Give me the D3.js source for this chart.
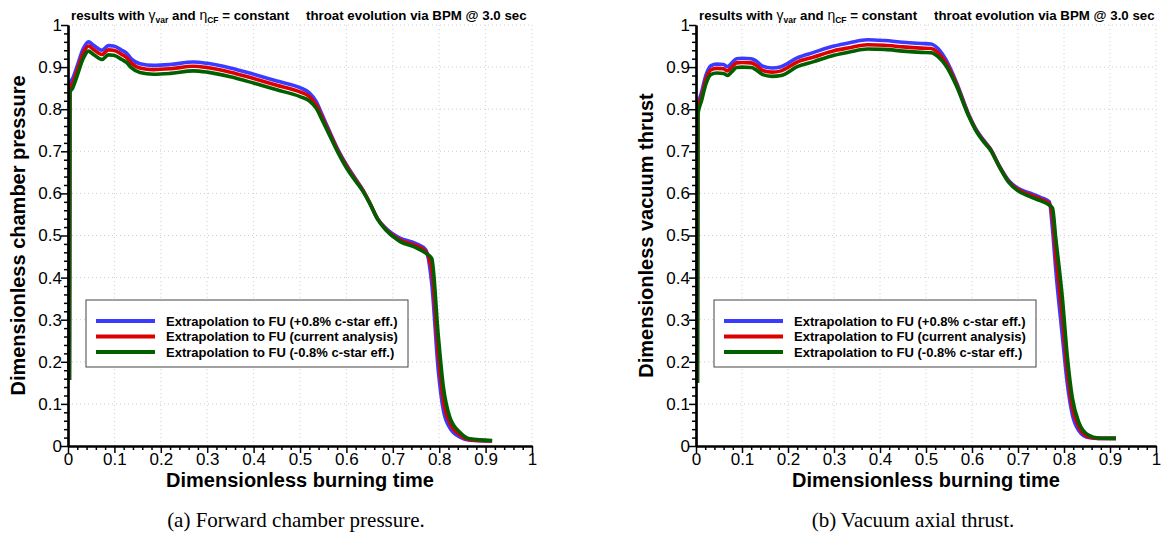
<!DOCTYPE html>
<html>
<head>
<meta charset="utf-8">
<script src="https://cdn.jsdelivr.net/npm/d3@7"></script>
<style>
  body { margin: 0; background: #fff; }
  svg { display: block; }
</style>
</head>
<body>
<div id="canvas"></div>
<script>
// pressure panel (a)
const tP = [0.003, 0.004, 0.010, 0.019, 0.033, 0.044, 0.055, 0.073, 0.087, 0.098, 0.116, 0.126, 0.137, 0.155, 0.184, 0.22, 0.27, 0.30, 0.35, 0.40, 0.45, 0.50, 0.52, 0.535, 0.548, 0.565, 0.58, 0.60, 0.62, 0.635, 0.65, 0.667, 0.685, 0.715, 0.75, 0.771, 0.784, 0.798, 0.809, 0.823, 0.845, 0.866, 0.914];
const pPlus = [0.157, 0.862, 0.873, 0.900, 0.944, 0.960, 0.952, 0.940, 0.951, 0.950, 0.940, 0.933, 0.919, 0.908, 0.904, 0.906, 0.912, 0.909, 0.898, 0.883, 0.867, 0.851, 0.839, 0.818, 0.786, 0.744, 0.708, 0.668, 0.634, 0.609, 0.578, 0.540, 0.517, 0.494, 0.481, 0.466, 0.385, 0.180, 0.085, 0.043, 0.021, 0.014, 0.012];
const pCurr = [0.157, 0.852, 0.862, 0.889, 0.933, 0.950, 0.942, 0.930, 0.941, 0.940, 0.930, 0.923, 0.909, 0.898, 0.894, 0.896, 0.902, 0.899, 0.888, 0.873, 0.857, 0.841, 0.830, 0.810, 0.780, 0.740, 0.705, 0.665, 0.632, 0.608, 0.578, 0.540, 0.515, 0.490, 0.476, 0.462, 0.418, 0.220, 0.109, 0.055, 0.026, 0.015, 0.012];
const pMinus = [0.157, 0.840, 0.850, 0.877, 0.921, 0.938, 0.930, 0.918, 0.929, 0.928, 0.918, 0.911, 0.898, 0.887, 0.883, 0.885, 0.891, 0.888, 0.877, 0.862, 0.846, 0.830, 0.820, 0.802, 0.774, 0.735, 0.701, 0.661, 0.629, 0.606, 0.577, 0.539, 0.513, 0.486, 0.471, 0.458, 0.445, 0.262, 0.140, 0.068, 0.032, 0.017, 0.013];

// thrust panel (b)
const tF = [0.003, 0.004, 0.012, 0.022, 0.032, 0.045, 0.06, 0.068, 0.078, 0.088, 0.10, 0.12, 0.13, 0.145, 0.165, 0.185, 0.22, 0.256, 0.30, 0.334, 0.373, 0.41, 0.45, 0.49, 0.511, 0.526, 0.543, 0.566, 0.593, 0.61, 0.625, 0.64, 0.66, 0.68, 0.70, 0.725, 0.75, 0.768, 0.775, 0.782, 0.797, 0.807, 0.818, 0.832, 0.853, 0.875, 0.913];
const fPlus = [0.15, 0.806, 0.84, 0.882, 0.903, 0.907, 0.906, 0.901, 0.910, 0.920, 0.921, 0.920, 0.915, 0.902, 0.898, 0.901, 0.922, 0.935, 0.950, 0.958, 0.965, 0.963, 0.959, 0.956, 0.955, 0.944, 0.918, 0.864, 0.787, 0.750, 0.727, 0.706, 0.664, 0.630, 0.612, 0.601, 0.590, 0.580, 0.515, 0.420, 0.255, 0.150, 0.075, 0.037, 0.020, 0.018, 0.018];
const fCurr = [0.15, 0.798, 0.83, 0.872, 0.893, 0.897, 0.896, 0.891, 0.900, 0.910, 0.911, 0.910, 0.905, 0.892, 0.888, 0.891, 0.912, 0.924, 0.939, 0.946, 0.953, 0.952, 0.948, 0.945, 0.944, 0.934, 0.911, 0.860, 0.785, 0.748, 0.725, 0.705, 0.663, 0.628, 0.609, 0.597, 0.586, 0.576, 0.545, 0.457, 0.300, 0.180, 0.093, 0.046, 0.022, 0.018, 0.018];
const fMinus = [0.15, 0.786, 0.82, 0.861, 0.882, 0.886, 0.885, 0.880, 0.889, 0.899, 0.900, 0.899, 0.894, 0.882, 0.878, 0.880, 0.901, 0.913, 0.928, 0.936, 0.943, 0.942, 0.938, 0.935, 0.934, 0.925, 0.904, 0.856, 0.783, 0.746, 0.723, 0.703, 0.662, 0.626, 0.606, 0.593, 0.582, 0.572, 0.565, 0.495, 0.345, 0.215, 0.115, 0.057, 0.026, 0.019, 0.018];

const majorTicks = [0, 0.1, 0.2, 0.3, 0.4, 0.5, 0.6, 0.7, 0.8, 0.9, 1];
const legendLabels = ['Extrapolation to FU (+0.8% c-star eff.)', 'Extrapolation to FU (current analysis)', 'Extrapolation to FU (-0.8% c-star eff.)'];
const colors = ['#3b3bff', '#dd0000', '#006000'];

const W = 1162, H = 546;
const sans = 'Liberation Sans, Arial, Helvetica, sans-serif';
const minorTicks = d3.range(0, 51).map(i => +(i * 0.02).toFixed(2)).filter(d => Math.round(d * 50) % 5 != 0);

const svg = d3.select('#canvas').append('svg')
  .attr('width', W)
  .attr('height', H);

const panel = (left, plotW, yTitle, times, series, caption, capX) => {
  const x = d3.scaleLinear().domain([0, 1]).range([left, left + plotW]);
  const y = d3.scaleLinear().domain([0, 1]).range([446, 25]);
  const g = svg.append('g');

  // dotted grid
  g.append('g').selectAll('line').data(majorTicks.slice(1)).join('line')
    .attr('x1', d => x(d)).attr('x2', d => x(d))
    .attr('y1', y(0)).attr('y2', y(1))
    .attr('stroke', '#d0d0d0').attr('stroke-dasharray', '1,3');
  g.append('g').selectAll('line').data(majorTicks.slice(1)).join('line')
    .attr('y1', d => y(d)).attr('y2', d => y(d))
    .attr('x1', x(0)).attr('x2', x(1))
    .attr('stroke', '#d0d0d0').attr('stroke-dasharray', '1,3');

  // curves
  const line = d3.line()
    .x((d, i) => x(times[i]))
    .y(d => y(d))
    .curve(d3.curveMonotoneX);
  series.forEach((s, k) => {
    g.append('path')
      .attr('d', line(s))
      .attr('fill', 'none')
      .attr('stroke', colors[k])
      .attr('stroke-width', 3.6)
      .attr('stroke-linejoin', 'round');
  });

  // axes
  const fmt = d => String(+d.toFixed(1));
  const xMinor = g.append('g').attr('transform', `translate(0, ${y(0)})`)
    .call(d3.axisBottom(x).tickValues(minorTicks).tickSize(4).tickSizeOuter(0).tickFormat(''));
  const xMajor = g.append('g').attr('transform', `translate(0, ${y(0)})`)
    .call(d3.axisBottom(x).tickValues(majorTicks).tickSize(7).tickSizeOuter(0).tickPadding(0).tickFormat(fmt));
  const yMinor = g.append('g').attr('transform', `translate(${x(0)}, 0)`)
    .call(d3.axisLeft(y).tickValues(minorTicks).tickSize(4).tickSizeOuter(0).tickFormat(''));
  const yMajor = g.append('g').attr('transform', `translate(${x(0)}, 0)`)
    .call(d3.axisLeft(y).tickValues(majorTicks).tickSize(7).tickSizeOuter(0).tickPadding(-1).tickFormat(fmt));
  [xMinor, xMajor, yMinor, yMajor].forEach(a => {
    a.selectAll('.tick line').attr('stroke', '#000').attr('stroke-width', 1.5);
    a.select('.domain').attr('stroke', '#000').attr('stroke-width', 2.2);
    a.selectAll('text').attr('font-family', sans).attr('font-size', 17).attr('fill', '#000');
  });

  // header
  const hdr = g.append('text')
    .attr('x', left + 3).attr('y', 20)
    .attr('font-family', sans).attr('font-weight', 'bold').attr('font-size', 13.3);
  hdr.append('tspan').text('results with ');
  hdr.append('tspan').attr('font-weight', 'normal').attr('font-size', 14).text('γ');
  hdr.append('tspan').attr('font-size', 8.5).attr('dy', 3).text('var');
  hdr.append('tspan').attr('dy', -3).text(' and ');
  hdr.append('tspan').attr('font-weight', 'normal').attr('font-size', 14).text('η');
  hdr.append('tspan').attr('font-size', 8.5).attr('dy', 3).text('CF');
  hdr.append('tspan').attr('dy', -3).text(' = constant');
  g.append('text')
    .attr('x', left + 238).attr('y', 20)
    .attr('font-family', sans).attr('font-weight', 'bold').attr('font-size', 13.3)
    .text('throat evolution via BPM @ 3.0 sec');

  // axis titles
  g.append('text')
    .attr('x', (x(0) + x(1)) / 2).attr('y', 487)
    .attr('text-anchor', 'middle')
    .attr('font-family', sans).attr('font-weight', 'bold').attr('font-size', 20)
    .text('Dimensionless burning time');
  g.append('text')
    .attr('transform', `translate(${left - 43}, ${(y(0) + y(1)) / 2}) rotate(-90)`)
    .attr('text-anchor', 'middle')
    .attr('font-family', sans).attr('font-weight', 'bold').attr('font-size', 20)
    .text(yTitle);

  // legend
  const lg = g.append('g').attr('transform', `translate(${left + 18}, 300)`);
  lg.append('rect')
    .attr('width', 322).attr('height', 67)
    .attr('fill', '#fff').attr('stroke', '#444').attr('stroke-width', 1);
  legendLabels.forEach((lab, k) => {
    const yy = 21 + k * 15.5;
    lg.append('line')
      .attr('x1', 10).attr('x2', 69).attr('y1', yy).attr('y2', yy)
      .attr('stroke', colors[k]).attr('stroke-width', 4);
    lg.append('text')
      .attr('x', 80).attr('y', yy + 4.5)
      .attr('font-family', sans).attr('font-weight', 'bold').attr('font-size', 13)
      .text(lab);
  });

  // caption
  svg.append('text')
    .attr('x', capX).attr('y', 527)
    .attr('text-anchor', 'middle')
    .attr('font-family', 'Liberation Serif, Times New Roman, serif').attr('font-size', 21)
    .text(caption);
};

panel(68, 464, 'Dimensionless chamber pressure', tP, [pPlus, pCurr, pMinus], '(a) Forward chamber pressure.', 296);
panel(696, 460, 'Dimensionless vacuum thrust', tF, [fPlus, fCurr, fMinus], '(b) Vacuum axial thrust.', 913);
</script>
</body>
</html>
